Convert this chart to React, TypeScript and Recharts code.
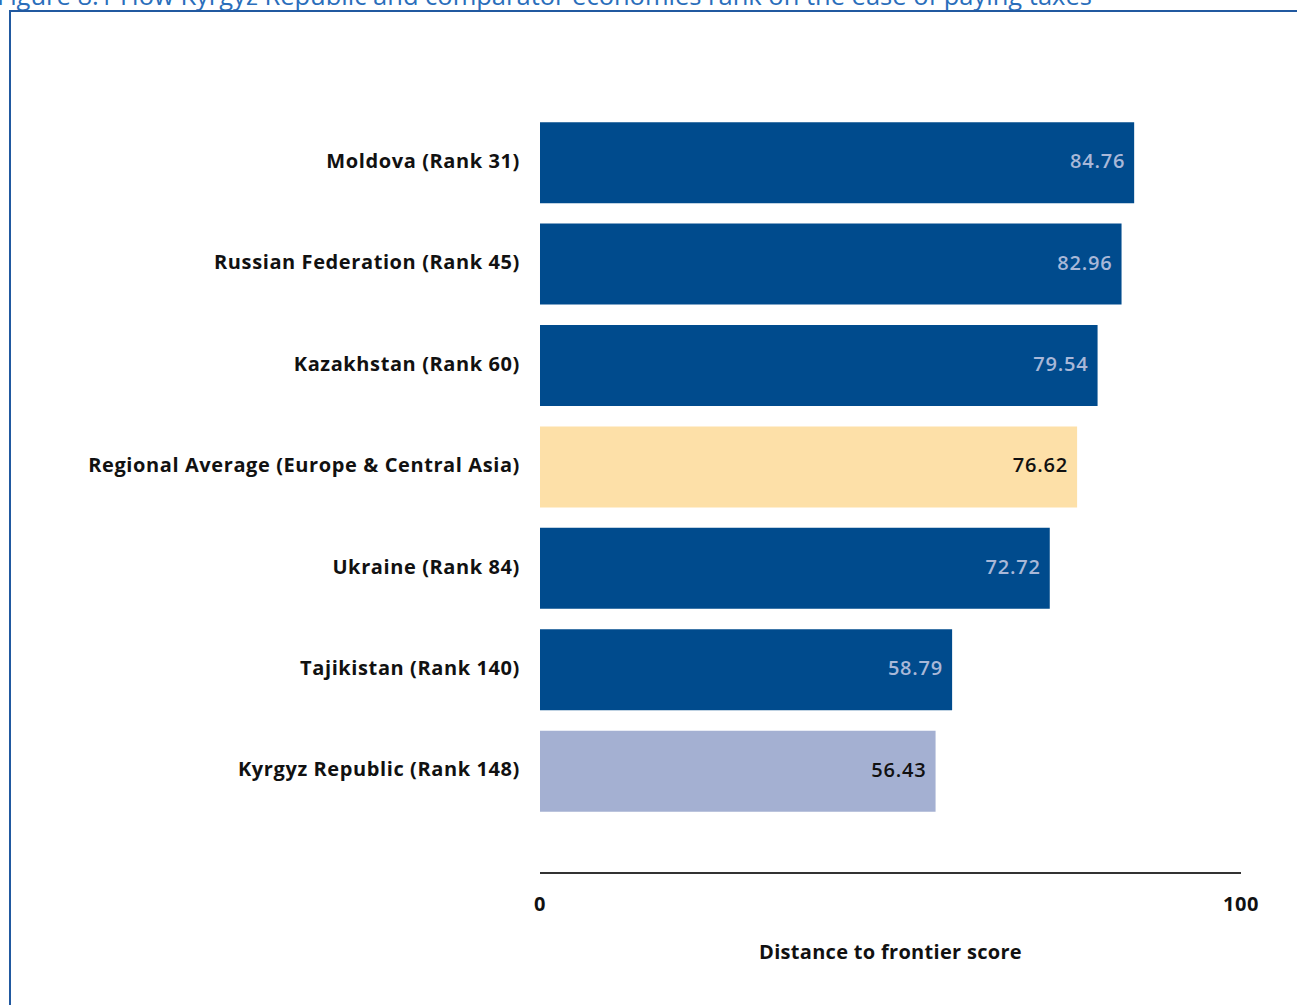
import React from 'react';
import { BarChart, Bar, XAxis, YAxis, Cell, LabelList } from 'recharts';

// economies, top to bottom
const economies = [
  'Moldova (Rank 31)',
  'Russian Federation (Rank 45)',
  'Kazakhstan (Rank 60)',
  'Regional Average (Europe & Central Asia)',
  'Ukraine (Rank 84)',
  'Tajikistan (Rank 140)',
  'Kyrgyz Republic (Rank 148)',
];

const scores = [84.76, 82.96, 79.54, 76.62, 72.72, 58.79, 56.43];

const xTicks = [0, 100];

// styling per bar (kept apart from the values)
const barColors = ['#004b8d', '#004b8d', '#004b8d', '#fde0a8', '#004b8d', '#004b8d', '#a4b0d2'];
const labelColors = ['#a9b8d8', '#a9b8d8', '#a9b8d8', '#111111', '#a9b8d8', '#a9b8d8', '#111111'];

const data = economies.map((name, i) => ({ name, score: scores[i] }));

const FONT = '"Open Sans", "Liberation Sans", sans-serif';

const ValueLabel = (props: any) => {
  const { x, y, width, height, value, index } = props;
  return (
    <text
      x={x + width - 9}
      y={y + height / 2 - 2}
      textAnchor="end"
      dominantBaseline="central"
      fontSize={20}
      fontWeight={600}
      letterSpacing={0.8}
      fontFamily={FONT}
      fill={labelColors[index]}
    >
      {Number(value).toFixed(2)}
    </text>
  );
};

const App: React.FC = () => {
  return (
    <div style={{ position: 'absolute', left: 0, top: 0, width: 1297, height: 1005, overflow: 'hidden', background: '#fff' }}>
      <svg width={1297} height={20} style={{ position: 'absolute', left: 0, top: 0 }}>
        <text x={-3} y={5} fontSize={25.5} fontFamily={FONT} fill="#2a6ebb">
          Figure 8.1 How Kyrgyz Republic and comparator economies rank on the ease of paying taxes
        </text>
      </svg>
      <div
        style={{
          position: 'absolute',
          left: 9,
          top: 10,
          width: 1300,
          height: 1000,
          borderTop: '2px solid #2159a0',
          borderLeft: '2px solid #2159a0',
        }}
      />
      <div style={{ position: 'absolute', left: 0, top: 0 }}>
        <BarChart
          width={1297}
          height={1005}
          data={data}
          layout="vertical"
          margin={{ top: 112, right: 56, bottom: 42, left: 0 }}
          barCategoryGap="10%"
        >
          <XAxis
            type="number"
            domain={[0, 100]}
            ticks={xTicks}
            tickLine={false}
            axisLine={{ stroke: '#333', strokeWidth: 2 }}
            height={90}
            tickMargin={18}
            tick={{ fill: '#111', fontSize: 20, fontWeight: 700, fontFamily: FONT, letterSpacing: 0.5 }}
            label={{
              value: 'Distance to frontier score',
              position: 'insideBottom',
              offset: 4,
              fill: '#111',
              fontSize: 20,
              fontWeight: 700,
              fontFamily: FONT,
              letterSpacing: 0.3,
            }}
          />
          <YAxis
            type="category"
            dataKey="name"
            width={540}
            tickLine={false}
            axisLine={false}
            tickMargin={14}
            padding={{ top: 0, bottom: 51 }}
            tick={{ fill: '#111', fontSize: 20, fontWeight: 700, fontFamily: FONT, letterSpacing: 0.6, dy: -2 }}
          />
          <Bar dataKey="score" isAnimationActive={false}>
            {data.map((d, i) => (
              <Cell key={d.name} fill={barColors[i]} />
            ))}
            <LabelList dataKey="score" content={<ValueLabel />} />
          </Bar>
        </BarChart>
      </div>
    </div>
  );
};

export default App;
